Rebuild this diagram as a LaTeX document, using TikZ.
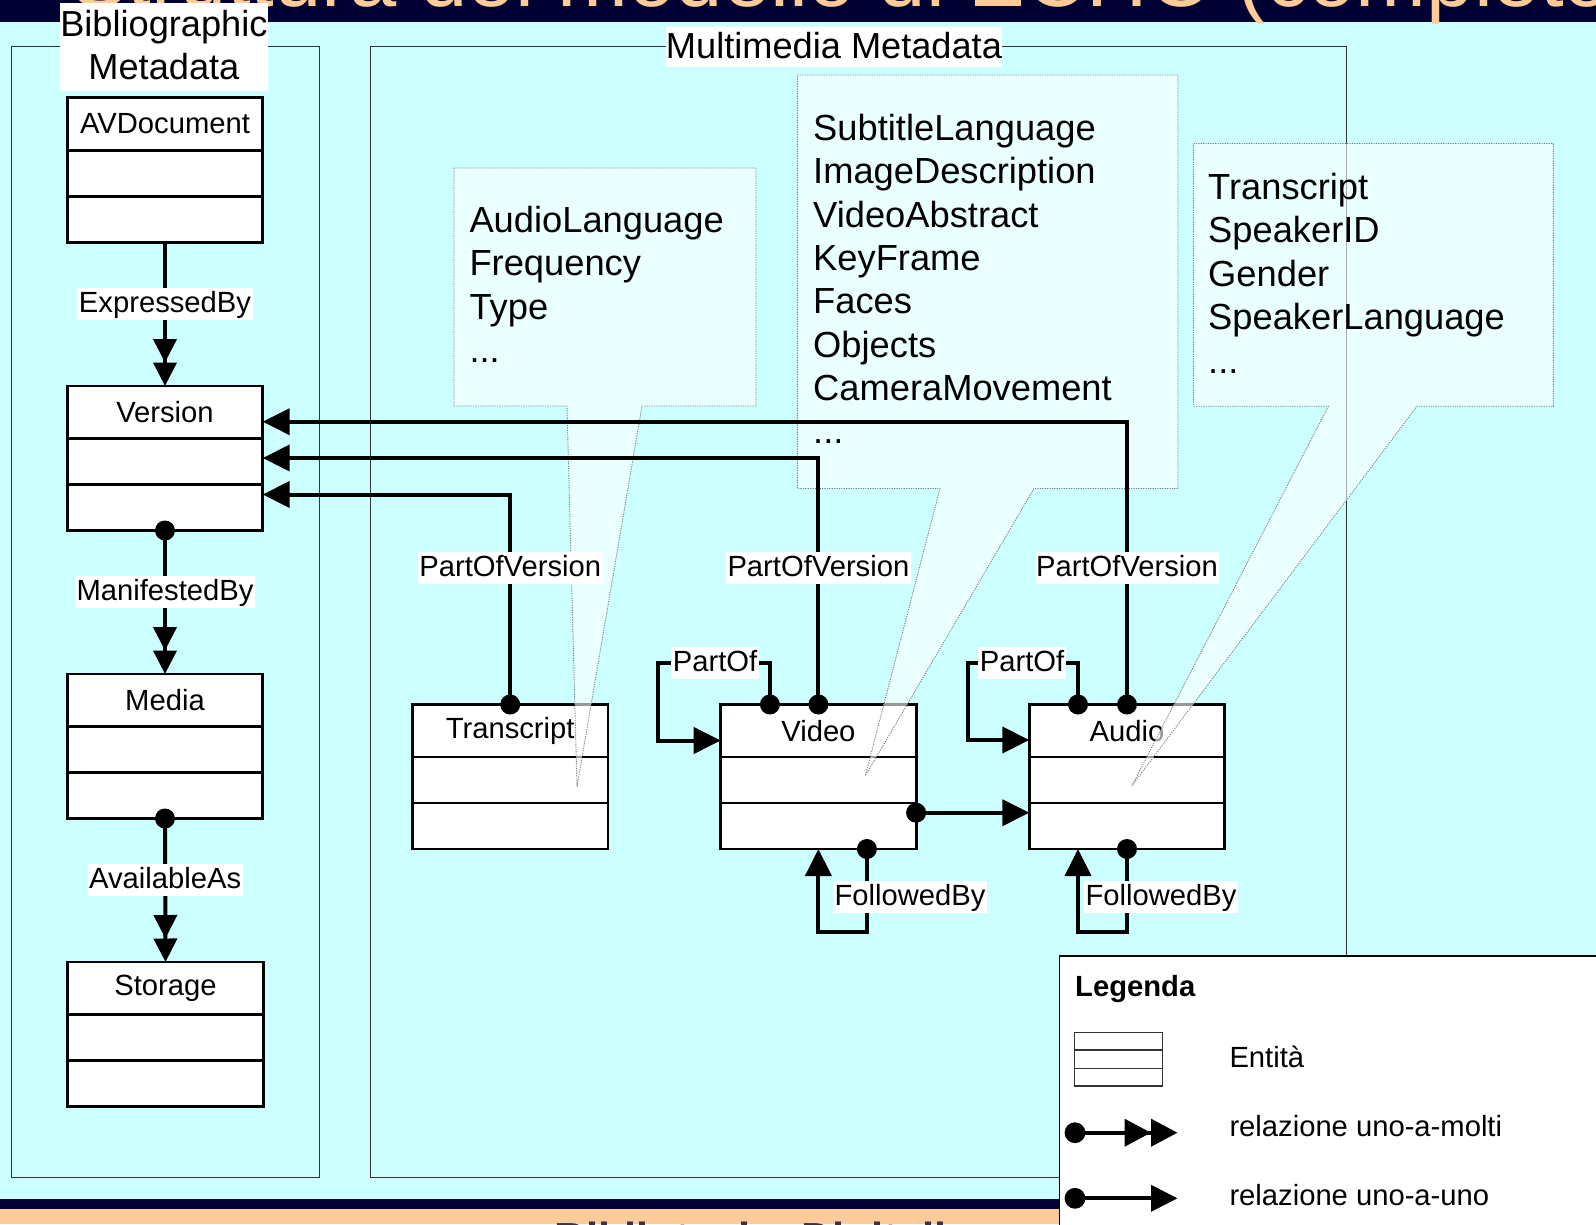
\documentclass[tikz,border=0pt]{standalone}
\usepackage{fontspec}
\setmainfont{Liberation Sans}
\usetikzlibrary{arrows.meta,calc}

\definecolor{skycyan}{RGB}{204,255,255}
\definecolor{slidenavy}{RGB}{0,0,51}
\definecolor{slidepeach}{RGB}{255,204,153}
\definecolor{footink}{RGB}{51,51,77}
\newcommand\fsz[2]{\fontsize{#1pt}{#2pt}\selectfont}

\tikzset{
  ent/.style={draw=black, line width=2.8pt, fill=white, minimum width=195.4pt,
    minimum height=144.5pt, inner sep=0pt, outer sep=0pt, anchor=north west},
  entdiv/.style={line width=2.8pt},
  entlabel/.style={inner sep=0pt, font=\fsz{29.2}{35}},
  conn/.style={line width=4pt},
  onetip/.style={-{Triangle[length=27pt,width=26pt]}},
  manytip/.style={-{Triangle[length=23.5pt,width=23pt,sep=0pt]Triangle[length=23.5pt,width=23pt]}},
  joint/.style={fill=black},
  rellbl/.style={fill=white, inner xsep=1.5pt, inner ysep=2.5pt, text height=22pt,
    text depth=5pt, yshift=-1.5pt, font=\fsz{29.2}{35}},
  callout/.style={fill=white, fill opacity=0.6, draw=black!50, line width=0.9pt,
    dash pattern=on 1.2pt off 1.2pt},
  calltext/.style={anchor=base west, inner sep=0pt, font=\fsz{36.3}{43.4}},
  group/.style={draw=black!80, line width=1.3pt},
  grouplbl/.style={inner sep=0pt, align=center, font=\fsz{36.2}{43.3}},
  legtext/.style={anchor=base west, inner sep=0pt, font=\fsz{29.2}{35}},
}

% entity with a header and two empty compartments
\newcommand\entitybox[4]{%
  \node[ent] (#1) at (#2,#3) {};
  \draw[entdiv] ($(#1.north west)+(0,52.5)$) -- ($(#1.north east)+(0,52.5)$);
  \draw[entdiv] ($(#1.north west)+(0,98.5)$) -- ($(#1.north east)+(0,98.5)$);
  \node[entlabel] (#1-name) at ($(#1.north)+(0,26.3)$) {#4};
}

\begin{document}
\begin{tikzpicture}[x=1pt,y=-1pt]
\useasboundingbox (0,0) rectangle (1596,1224);
\clip (0,0) rectangle (1596,1224);

% slide background, header and footer bands
\fill[skycyan] (0,0) rectangle (1596,1224);
\fill[slidenavy] (0,0) rectangle (1596,22.4);
\node[anchor=base west, inner sep=0pt, text=slidepeach, font=\fsz{85}{100}] (title)
  at (71,6) {Struttura del modello di ECHO (completo)};
\fill[slidenavy] (0,1199) rectangle (1596,1209);
\fill[slidepeach] (0,1209) rectangle (1596,1224);
\node[anchor=base west, inner sep=0pt, text=footink, font=\bfseries\fsz{43.5}{50}] (footer)
  at (554.5,1253) {Biblioteche Digitali};

% metadata groups with their captions
\draw[group] (11.5,46.8) rectangle (319.5,1177.5);
\draw[group] (370.6,46.8) rectangle (1346.8,1177.5);
\fill[white] (60,3.3) rectangle (267.7,90.7);
\fill[white] (666,26.5) rectangle (1002,67);
\node[grouplbl] (biblbl) at (163.9,45.3) {Bibliographic\\Metadata};
\node[grouplbl] (mmlbl) at (834,45.5) {Multimedia Metadata};

% entities
\entitybox{avd}{67.3}{97.7}{AVDocument}
\entitybox{ver}{67.3}{386}{Version}
\entitybox{med}{67.3}{674}{Media}
\entitybox{sto}{67.8}{962}{Storage}
\entitybox{trs}{412.5}{704.5}{Transcript}
\entitybox{vid}{720.7}{704.5}{Video}
\entitybox{aud}{1029.3}{704.5}{Audio}

% attribute callouts
\path[callout] (454,168) -- (756,168) -- (756,406) -- (642,406) -- (577,787)
  -- (567,406) -- (454,406) -- cycle;
\path[callout] (797.3,75) -- (1178,75) -- (1178,488.5) -- (1034,488.5) -- (865.3,775.7)
  -- (940,488.5) -- (797.3,488.5) -- cycle;
\path[callout] (1193.5,143.5) -- (1553.4,143.5) -- (1553.4,406.2) -- (1417,406.2)
  -- (1131.7,786) -- (1328.4,406.2) -- (1193.5,406.2) -- cycle;

\node[calltext] (ta1) at (469.3,232.5) {AudioLanguage};
\node[calltext] (ta2) at (469.3,275.8) {Frequency};
\node[calltext] (ta3) at (469.3,319.1) {Type};
\node[calltext] (ta4) at (469.3,362.4) {...};

\node[calltext] (tv1) at (813,140.5) {SubtitleLanguage};
\node[calltext] (tv2) at (813,183.8) {ImageDescription};
\node[calltext] (tv3) at (813,227.1) {VideoAbstract};
\node[calltext] (tv4) at (813,270.4) {KeyFrame};
\node[calltext] (tv5) at (813,313.7) {Faces};
\node[calltext] (tv6) at (813,357.0) {Objects};
\node[calltext] (tv7) at (813,400.3) {CameraMovement};
\node[calltext] (tv8) at (813,443.6) {...};

\node[calltext] (tt1) at (1208,199.0) {Transcript};
\node[calltext] (tt2) at (1208,242.5) {SpeakerID};
\node[calltext] (tt3) at (1208,286.0) {Gender};
\node[calltext] (tt4) at (1208,329.5) {SpeakerLanguage};
\node[calltext] (tt5) at (1208,373.0) {...};

% bibliographic chain
\draw[conn,manytip] (avd.south) -- node[rellbl,pos=0.42]{ExpressedBy} (ver.north);
\fill[joint] (ver.south) circle[radius=10pt];
\draw[conn,manytip] (ver.south) -- node[rellbl,pos=0.42]{ManifestedBy} (med.north);
\fill[joint] (med.south) circle[radius=10pt];
\draw[conn,manytip] (med.south) -- node[rellbl,pos=0.42]{AvailableAs} (sto.north);

% PartOfVersion links
\coordinate (rowT) at (0,494.5);
\coordinate (rowV) at (0,458);
\coordinate (rowA) at (0,421.7);
\coordinate (rowL) at (0,566);
\draw[conn,onetip] (trs.north) |- (ver.east |- rowT);
\draw[conn,onetip] (vid.north) |- (ver.east |- rowV);
\draw[conn,onetip] (aud.north) |- (ver.east |- rowA);
\fill[joint] (trs.north) circle[radius=10pt];
\fill[joint] (vid.north) circle[radius=10pt];
\fill[joint] (aud.north) circle[radius=10pt];
\node[rellbl] (pvt) at (trs.north |- rowL) {PartOfVersion};
\node[rellbl] (pvv) at (vid.north |- rowL) {PartOfVersion};
\node[rellbl] (pva) at (aud.north |- rowL) {PartOfVersion};

% PartOf self links
\coordinate (vpo) at ($(vid.north)+(-48.5,0)$);
\coordinate (vloop) at (658.3,663.3);
\coordinate (vin) at ($(vid.north west)+(0,36)$);
\draw[conn,onetip] (vpo) |- (vloop) |- (vin);
\fill[joint] (vpo) circle[radius=10pt];
\node[rellbl] (pov) at (715,661.5) {PartOf};

\coordinate (apo) at ($(aud.north)+(-49,0)$);
\coordinate (aloop) at (967.7,663.3);
\coordinate (ain) at ($(aud.north west)+(0,35.5)$);
\draw[conn,onetip] (apo) |- (aloop) |- (ain);
\fill[joint] (apo) circle[radius=10pt];
\node[rellbl] (poa) at (1022,661.5) {PartOf};

% Video to Audio
\coordinate (vout) at ($(vid.north east)+(0,108.2)$);
\draw[conn,onetip] (vout) -- (aud.west |- vout);
\fill[joint] (vout) circle[radius=10pt];

% FollowedBy self links
\coordinate (vfb) at ($(vid.south)+(48.5,0)$);
\draw[conn,onetip] (vfb) |- ($(vid.south)+(0,82.7)$) -- (vid.south);
\fill[joint] (vfb) circle[radius=10pt];
\node[rellbl] (fbv) at (910,895) {FollowedBy};

\coordinate (afb) at ($(aud.south)+(-49,0)$);
\draw[conn,onetip] (aud.south) |- ($(afb)+(0,82.7)$) -- (afb);
\fill[joint] (aud.south) circle[radius=10pt];
\node[rellbl] (fba) at (1161,895) {FollowedBy};

% legend
\fill[white] (1059.4,956) rectangle (1600,1230);
\draw[line width=1.5pt] (1059.4,1230) -- (1059.4,956) -- (1600,956);
\node[legtext, font=\bfseries\fsz{29.2}{35}] (leghead) at (1075,996.7) {Legenda};
\draw[draw=black!80, line width=1.3pt, fill=white] (1074.4,1032.3) rectangle (1162.5,1086);
\draw[draw=black!80, line width=1.3pt] (1074.4,1050) -- (1162.5,1050);
\draw[draw=black!80, line width=1.3pt] (1074.4,1068.3) -- (1162.5,1068.3);
\node[legtext] (legent) at (1229.3,1067) {Entità};
\coordinate (lm1) at (1075,1132.7);
\coordinate (lm2) at (1177.5,1132.7);
\draw[conn,-{Triangle[length=26.5pt,width=27pt,sep=0pt]Triangle[length=26.5pt,width=27pt]}] (lm1) -- (lm2);
\fill[joint] (lm1) circle[radius=10.4pt];
\node[legtext] (legmany) at (1229.3,1136) {relazione uno-a-molti};
\coordinate (lo1) at (1075,1198.3);
\coordinate (lo2) at (1177.5,1198.3);
\draw[conn,-{Triangle[length=26.5pt,width=26pt]}] (lo1) -- (lo2);
\fill[joint] (lo1) circle[radius=10.4pt];
\node[legtext] (legone) at (1229.3,1205) {relazione uno-a-uno};
\end{tikzpicture}
\end{document}
